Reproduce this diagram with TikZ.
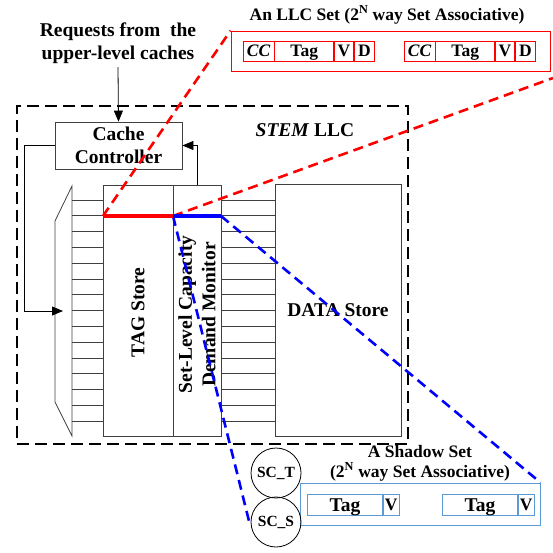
\documentclass[tikz,border=0pt]{standalone}
\usepackage{fontspec}
\setmainfont{Liberation Serif}
\usetikzlibrary{arrows.meta,positioning}
\definecolor{ink}{HTML}{000000}
\definecolor{inktwo}{HTML}{404040}
\definecolor{cred}{HTML}{FF0000}
\definecolor{cblue}{HTML}{0000FF}
\definecolor{clight}{HTML}{5B9BD5}
\newcommand{\bigf}{\fontsize{19.5}{23.5}\selectfont\bfseries}
\newcommand{\ttlf}{\fontsize{17.5}{20}\selectfont\bfseries}
\newcommand{\cellf}{\fontsize{17.5}{20}\selectfont\bfseries}
\newcommand{\scf}{\fontsize{15.5}{18}\selectfont\bfseries}
\tikzset{
  every node/.style={text=ink},
  % plain boxes of the cache; text in bold serif
  blk/.style={draw=inktwo, line width=0.8pt, inner sep=0pt, align=center, font=\bigf},
  cell/.style={draw=#1, line width=0.8pt, inner sep=0pt, anchor=west, font=\cellf,
               text height=11.5pt, text depth=0pt},
  circ/.style={draw=ink, circle, line width=0.8pt, minimum size=50, inner sep=0pt, font=\scf},
  ttl/.style={font=\ttlf, align=center},
  row/.style={draw=inktwo, line width=0.8pt},
  arr/.style={-{Triangle[length=11pt,width=9pt]}, line width=0.8pt, color=ink},
  frame/.style={draw=ink, dash pattern=on 12pt off 6pt, line width=2.8pt},
  proj/.style={dash pattern=on 10pt off 6pt, line width=2.6pt, color=#1},
  sel/.style={line width=3.6pt, color=#1},
}
\begin{document}
\begin{tikzpicture}[x=1pt,y=-1pt]
  \useasboundingbox (0,0) rectangle (553,552);

  % ---- the STEM LLC ----
  \node[frame, minimum width=391, minimum height=338, inner sep=0pt] (stem) at (212.5,275) {};
  \node[font=\bigf] (stemlbl) at (305,130) {\textit{STEM} LLC};

  \node[font=\bigf, align=center] (req) at (118,43) {Requests from\ \ the\\upper-level caches};
  \node[blk, minimum width=127, minimum height=47] (ctrl) at (118.5,145.5) {Cache\\Controller};

  \node[blk, minimum width=70, minimum height=251] (tag)  at (138,310.5) {};
  \node[blk, minimum width=48, minimum height=251] (mon)  at (197,310.5) {};
  \node[blk, minimum width=126, minimum height=252] (data) at (338,310) {DATA Store};
  \node[font=\bigf, rotate=90] (taglbl) at ([yshift=-2]tag.center) {TAG Store};
  \node[font=\bigf, rotate=90, align=center] (monlbl) at ([yshift=-4]mon.center) {Set-Level Capacity\\Demand Monitor};

  % set decoder and the set rows
  \draw[row] (55,221) -- (72,186) -- (72,436) -- (55,402) -- cycle;
  \foreach \i in {0,...,14}{
    \pgfmathsetmacro{\yy}{200+15.79*\i}
    \draw[row] (72,\yy) -- (103,\yy);
    \draw[row] (221,\yy) -- (275,\yy);
  }

  \coordinate (muxin) at (63,311);
  \draw[arr] (req.south) -- (ctrl.north);
  \draw[arr] (mon.north) |- (ctrl.east);
  \draw[arr] (ctrl.west) -- ++(-30,0) |- (muxin);

  % ---- an LLC set ----
  \node[ttl] (llcttl) at (387,15) {An LLC Set (2\textsuperscript{N} way Set Associative)};
  \node[draw=cred, line width=0.8pt, minimum width=319, minimum height=40, inner sep=0pt] (llc) at (390.5,51) {};
  \foreach \gx [count=\g] in {243,404}{
    \node[cell=cred, minimum width=30.5, minimum height=20, font=\cellf\itshape] (cc\g) at (\gx,51) {CC};
    \node[cell=cred, minimum width=59, minimum height=20, right=0pt of cc\g] (tg\g) {Tag};
    \node[cell=cred, minimum width=19, minimum height=20, right=0pt of tg\g] (v\g) {V};
    \node[cell=cred, minimum width=20.5, minimum height=20, right=0pt of v\g] (d\g) {D};
  }

  % ---- a shadow set ----
  \node[ttl] (shttl) at (420,463) {A Shadow Set\\(2\textsuperscript{N} way Set Associative)};
  \node[draw=clight, line width=0.9pt, minimum width=240, minimum height=42, inner sep=0pt] (shadow) at (420,504) {};
  \foreach \gx [count=\g] in {307,442}{
    \node[cell=clight, minimum width=75, minimum height=21, font=\bigf, text height=13pt] (stg\g) at (\gx,504.5) {Tag};
    \node[cell=clight, minimum width=16, minimum height=21, right=0pt of stg\g] (sv\g) {V};
  }
  \node[circ] (sct) at (276,473) {SC\_T};
  \node[circ] (scs) at (276,522) {SC\_S};

  % ---- the selected set and its projections ----
  \coordinate (setL) at (103,216);
  \coordinate (setM) at (173,216);
  \coordinate (setR) at (221,216);
  \coordinate (llcR) at (553,78);
  \coordinate (shL)  at (250,525);
  \draw[proj=cred] (setL) -- (llc.north west);
  \draw[proj=cred] (setM) -- (llcR);
  \draw[proj=cblue] (setM) -- (shL);
  \draw[proj=cblue] (setR) -- (shadow.north east);
  \draw[sel=cred] (setL) -- (setM);
  \draw[sel=cblue] (setM) -- (setR);
\end{tikzpicture}
\end{document}
